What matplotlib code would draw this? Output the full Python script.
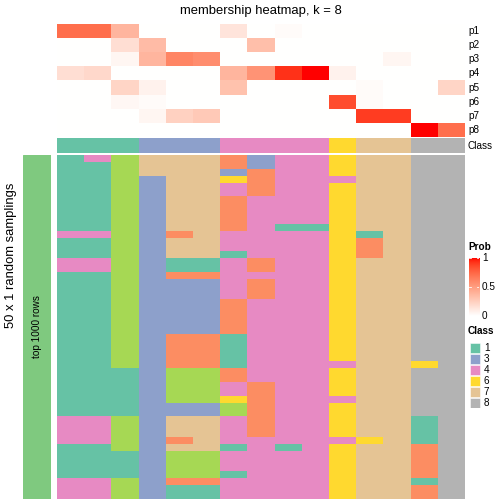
import numpy as np
import matplotlib
matplotlib.use("Agg")
import matplotlib.pyplot as plt
from matplotlib.colors import ListedColormap, LinearSegmentedColormap
from matplotlib.patches import Rectangle

plt.rcParams['font.family'] = ['Liberation Sans', 'DejaVu Sans']

# ---------------- data ----------------
title = "membership heatmap, k = 8"
row_names = ["p1", "p2", "p3", "p4", "p5", "p6", "p7", "p8"]
sample_class = [1, 1, 1, 3, 3, 3, 4, 4, 4, 4, 6, 7, 7, 8, 8]

p1 = [0.72, 0.72, 0.38, 0, 0, 0, 0.14, 0, 0.02, 0, 0, 0, 0, 0, 0]
p2 = [0, 0, 0.17, 0.35, 0, 0, 0, 0.33, 0, 0, 0, 0, 0, 0, 0]
p3 = [0, 0, 0.05, 0.38, 0.62, 0.58, 0, 0, 0, 0, 0, 0, 0.05, 0, 0]
p4 = [0.17, 0.2, 0, 0, 0, 0, 0.38, 0.55, 0.93, 1.0, 0.07, 0, 0, 0, 0]
p5 = [0, 0, 0.22, 0.07, 0, 0, 0.32, 0, 0, 0, 0, 0.02, 0, 0, 0.22]
p6 = [0, 0, 0.04, 0.02, 0, 0, 0, 0, 0, 0, 0.85, 0.02, 0, 0, 0]
p7 = [0, 0, 0, 0.05, 0.24, 0.28, 0, 0, 0, 0, 0, 0.9, 0.9, 0, 0]
p8 = [0, 0, 0, 0, 0, 0, 0, 0, 0, 0, 0, 0, 0, 1.0, 0.72]

# 50 random samplings (rows) x 15 samples (columns), class per cell
samplings = [
    "145777234467788", "115777234467788", "115777324467788", "115377624447788",
    "115377424467788", "115377424467788", "115377244467788", "115377244467788",
    "115377244467788", "115377244467788", "115377241167788", "445327444461788",
    "115377444462788", "115377444462788", "115377144462788", "445311424467788",
    "445311424467788", "115322444467788", "115333424467788", "115333424467788",
    "115333424467788", "115333244467788", "115333244467788", "115333244467788",
    "115333244467788", "115333244467788", "115322144467788", "115322144467788",
    "115322144467788", "115322144467788", "115322144447768", "111355244467788",
    "111355244467788", "111355424467788", "111355424467788", "111355624447788",
    "111333524467788", "111333524467788", "445377424467718", "445377424467718",
    "445377424467718", "445327444446718", "115377141467728", "111355444467728",
    "111355444467728", "111355444467728", "111355144467728", "445322444467718",
    "445311444467728", "445311444467728",
]

legend_classes = [1, 3, 4, 6, 7, 8]
class_colors = {1: "#66C2A5", 2: "#FC8D62", 3: "#8DA0CB", 4: "#E78AC3",
                5: "#A6D854", 6: "#FFD92F", 7: "#E5C494", 8: "#B3B3B3"}
prob_ticks = [0, 0.5, 1]

# ---------------- colormap white -> red in LAB ----------------
def lab2rgb(L, a, b):
    fy = (L + 16) / 116.0
    fx = fy + a / 500.0
    fz = fy - b / 200.0
    def finv(t):
        return np.where(t > 6 / 29, t ** 3, 3 * (6 / 29) ** 2 * (t - 4 / 29))
    X = 0.95047 * finv(fx); Y = finv(fy); Z = 1.08883 * finv(fz)
    M = np.array([[3.2406, -1.5372, -0.4986], [-0.9689, 1.8758, 0.0415], [0.0557, -0.2040, 1.0570]])
    rgb = M @ np.array([X, Y, Z])
    rgb = np.where(rgb <= 0.0031308, 12.92 * rgb, 1.055 * np.power(np.clip(rgb, 0, None), 1 / 2.4) - 0.055)
    return np.clip(rgb, 0, 1)

ts = np.linspace(0, 1, 256)
white = np.array([100.0, 0.0, 0.0]); red = np.array([53.2408, 80.0925, 67.2032])
cols = [lab2rgb(*(white + (red - white) * t)) for t in ts]
prob_cmap = ListedColormap(cols)

# ---------------- figure ----------------
W = H = 504
fig = plt.figure(figsize=(7, 7), dpi=72)

def px_axes(x0, y0, x1, y1):
    return fig.add_axes([x0 / W, 1 - y1 / H, (x1 - x0) / W, (y1 - y0) / H])

HX0, HX1 = 57, 465
prob = np.array([p1, p2, p3, p4, p5, p6, p7, p8])
ax1 = px_axes(HX0, 24, HX1, 137)
ax1.imshow(prob, cmap=prob_cmap, vmin=0, vmax=1, aspect='auto', interpolation='nearest')
ax1.set_axis_off()

class_keys = sorted(class_colors)
class_cmap = ListedColormap([class_colors[k] for k in class_keys])
def to_idx(arr):
    return np.vectorize(lambda v: class_keys.index(v))(np.array(arr))

ax2 = px_axes(HX0, 138, HX1, 153)
ax2.imshow(to_idx([sample_class]), cmap=class_cmap, vmin=-0.5, vmax=len(class_keys) - 0.5,
           aspect='auto', interpolation='nearest')
ax2.set_axis_off()

mat = [[int(c) for c in row] for row in samplings]
ax3 = px_axes(HX0, 155, HX1, 499)
ax3.imshow(to_idx(mat), cmap=class_cmap, vmin=-0.5, vmax=len(class_keys) - 0.5,
           aspect='auto', interpolation='nearest')
ax3.set_axis_off()

# left split bar
axl = px_axes(23, 155, 51, 499)
axl.add_patch(Rectangle((0, 0), 1, 1, color="#7FC97F"))
axl.set_xlim(0, 1); axl.set_ylim(0, 1)
axl.set_axis_off()
axl.text(0.5, 0.5, "top 1000 rows", rotation=90, ha='center', va='center', fontsize=10)

fig.text(11 / W, 1 - 255 / H, "50 x 1 random samplings", rotation=90, ha='center', va='center', fontsize=13)

# title
fig.text((HX0 + HX1) / 2 / W, 1 - 11 / H, title, ha='center', va='center', fontsize=13)

# row labels
row_h = (137 - 24) / 8
for i, name in enumerate(row_names):
    fig.text(468 / W, 1 - (24 + row_h * (i + 0.5)) / H, name, ha='left', va='center', fontsize=10)
fig.text(468 / W, 1 - 146 / H, "Class", ha='left', va='center', fontsize=10)

# Prob legend
fig.text(468 / W, 1 - 247 / H, "Prob", ha='left', va='center', fontsize=10, fontweight='bold')
CB_TOP, CB_BOT = 258, 316
axc = px_axes(469, CB_TOP, 479, CB_BOT)
axc.imshow(np.linspace(1, 0, 200).reshape(-1, 1), cmap=prob_cmap, vmin=0, vmax=1,
           aspect='auto', extent=[0, 1, 0, 1])
for t in prob_ticks:
    axc.plot([0, 0.22], [t, t], color='white', lw=0.8)
    axc.plot([0.78, 1], [t, t], color='white', lw=0.8)
axc.set_xlim(0, 1); axc.set_ylim(0, 1)
axc.set_axis_off()
for t in prob_ticks:
    y = CB_BOT - (CB_BOT - CB_TOP) * t
    fig.text(482 / W, 1 - y / H, f"{t:g}", ha='left', va='center', fontsize=10)

# Class legend
fig.text(468 / W, 1 - 331 / H, "Class", ha='left', va='center', fontsize=10, fontweight='bold')
axk = px_axes(469, 342, 504, 342 + 11 * len(legend_classes))
axk.set_xlim(0, 35); axk.set_ylim(11 * len(legend_classes), 0)
axk.set_axis_off()
for i, c in enumerate(legend_classes):
    axk.add_patch(Rectangle((1, 11 * i + 0.5), 10, 10, facecolor=class_colors[c], edgecolor='white', lw=0.5))
    axk.text(15, 11 * i + 6, str(c), ha='left', va='center', fontsize=10)

fig.savefig("out.png", dpi=72)
